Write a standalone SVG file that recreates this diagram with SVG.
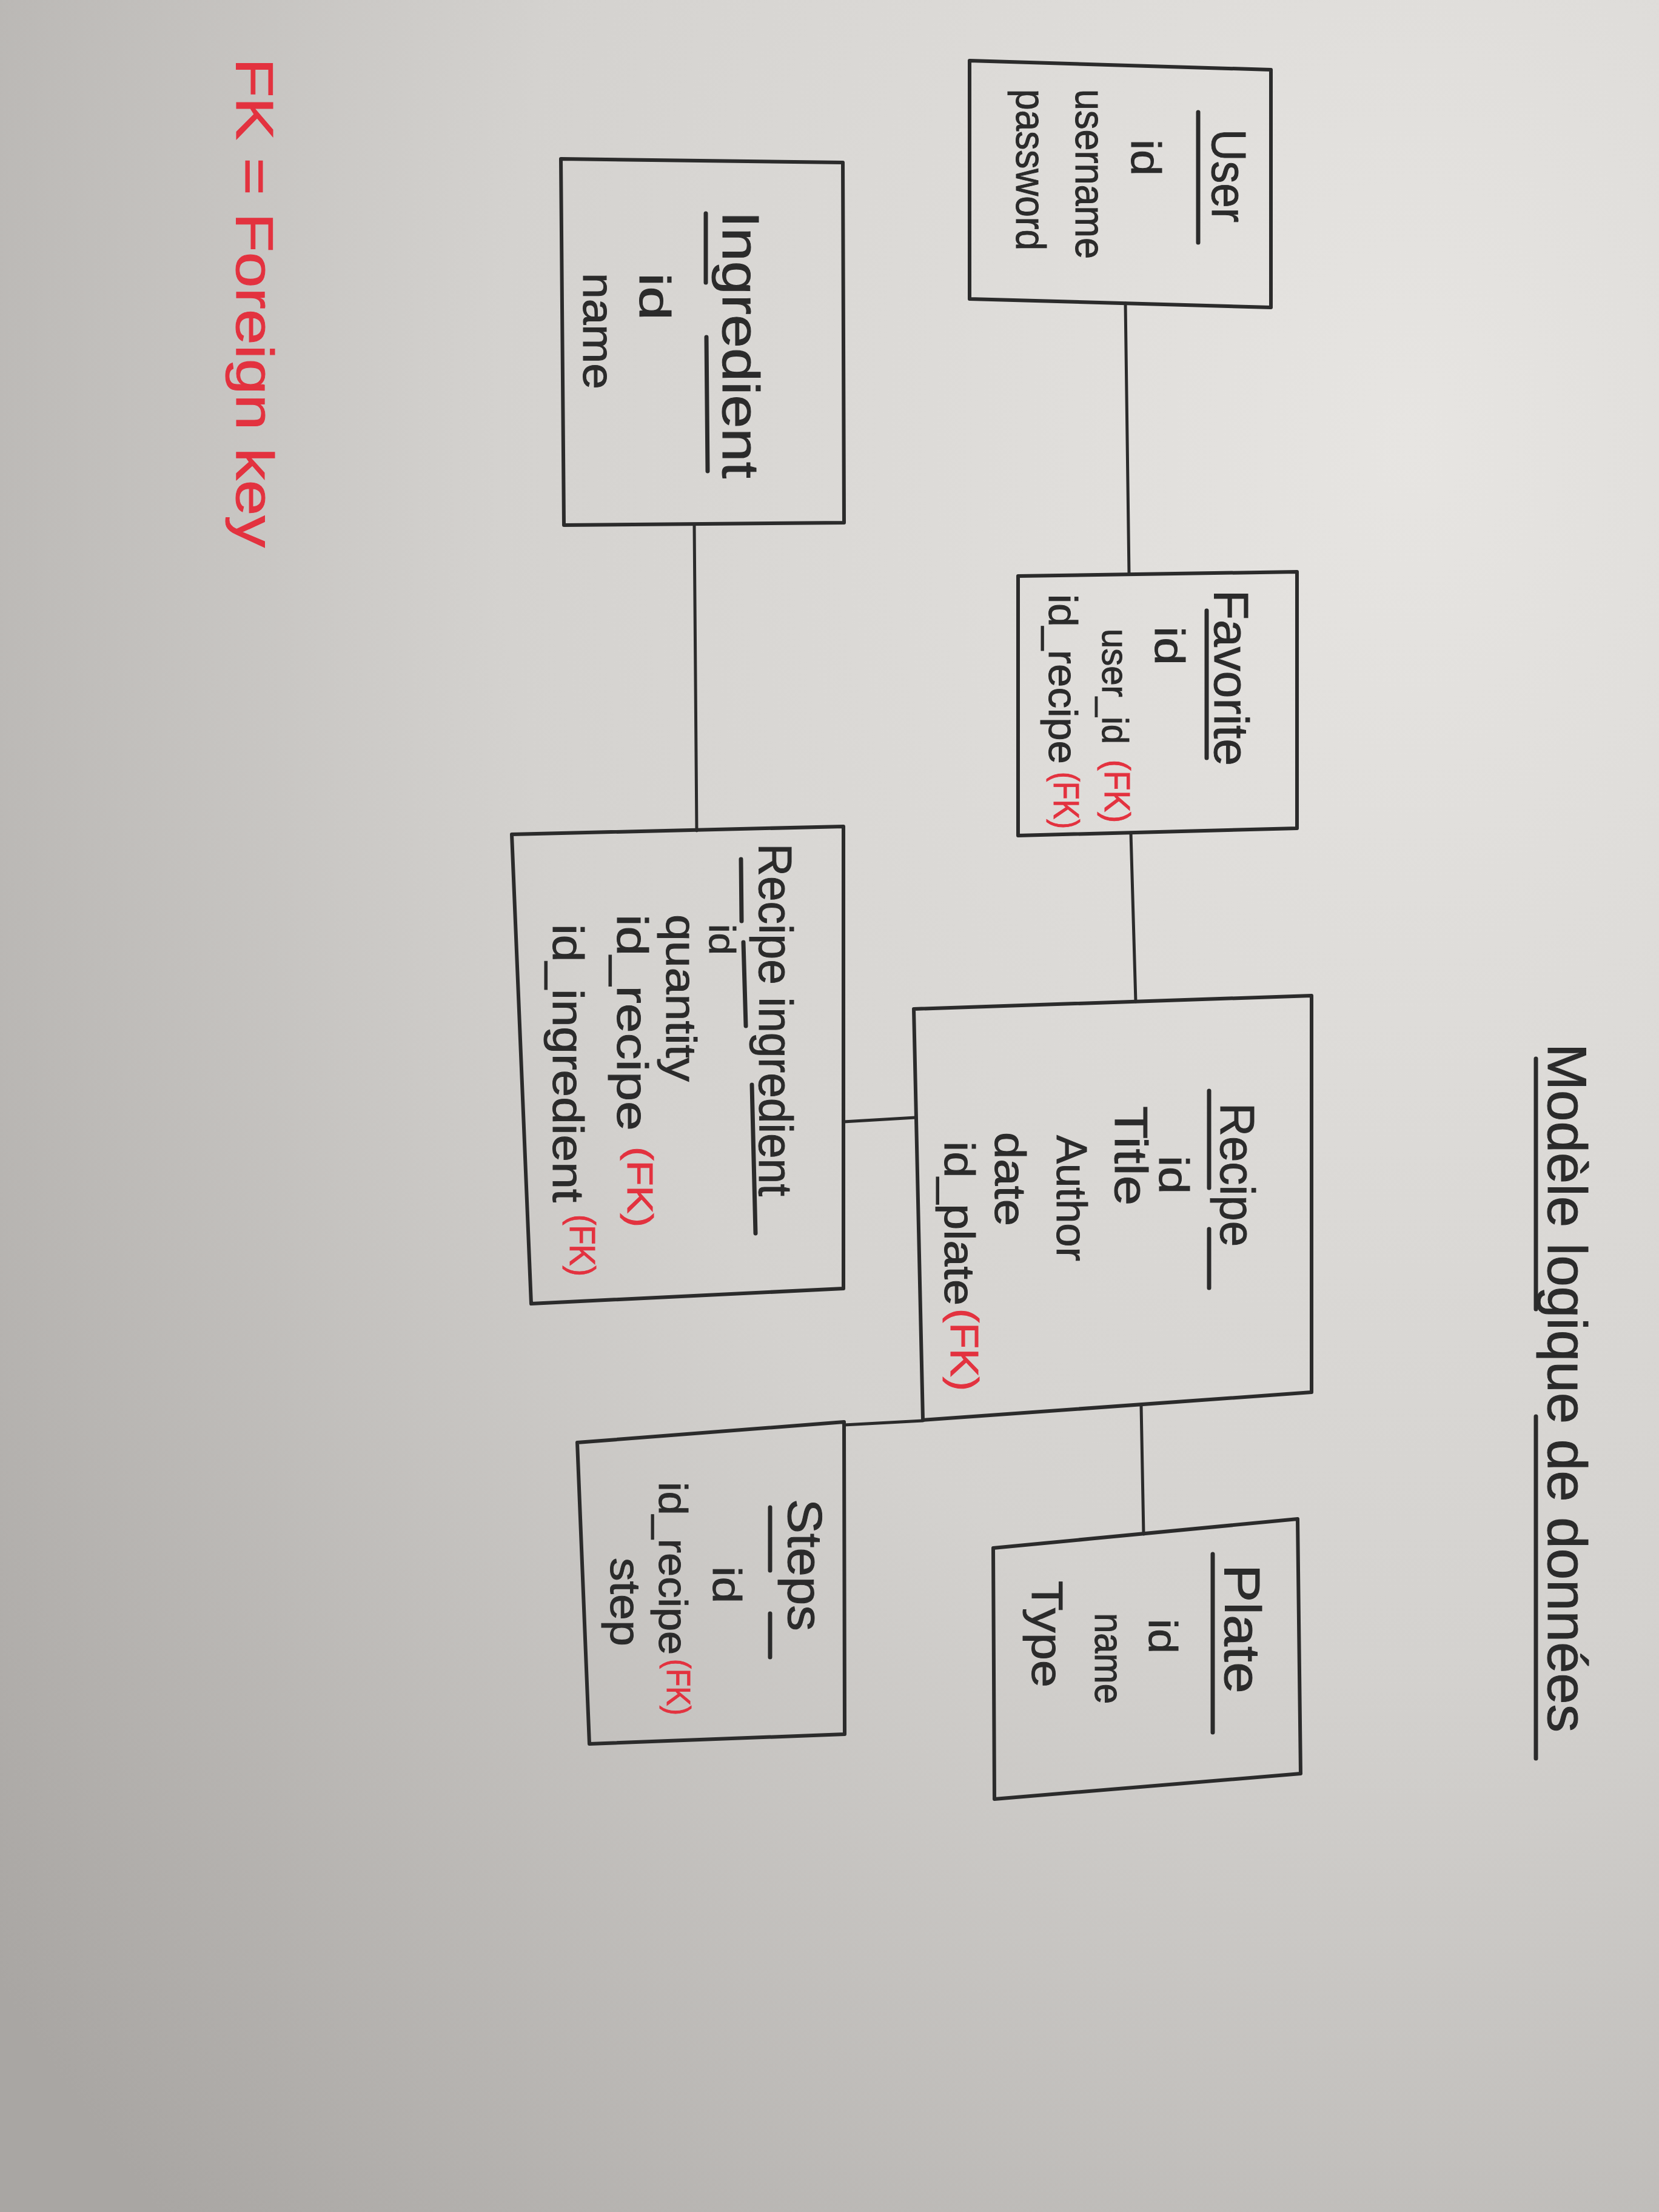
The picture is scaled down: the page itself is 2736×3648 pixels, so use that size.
<svg xmlns="http://www.w3.org/2000/svg" width="2736" height="3648" viewBox="0 0 2736 3648">
<defs>
<radialGradient id="paper" cx="0.85" cy="0.2" r="1.1">
<stop offset="0" stop-color="#e7e5e2"/>
<stop offset="0.5" stop-color="#d4d2cf"/>
<stop offset="1" stop-color="#a9a6a3"/>
</radialGradient>
<style>
.box{fill:none;stroke:#2b2b2b;stroke-width:6;stroke-linejoin:round;stroke-linecap:round}
.ln{fill:none;stroke:#2b2b2b;stroke-width:5;stroke-linecap:round}
.ul{fill:none;stroke:#2b2b2b;stroke-width:7;stroke-linecap:round}
text{font-family:"Liberation Sans","DejaVu Sans",sans-serif;fill:#2b2b2b;stroke:#2b2b2b;stroke-width:1}
.h{font-size:80px}
.a{font-size:68px}
.fk{font-size:60px;fill:#e3323f;stroke:#e3323f}
.leg{font-size:88px;fill:#e3323f;stroke:#e3323f}
</style>
</defs>
<rect x="0" y="0" width="2736" height="3648" fill="url(#paper)"/>

<g id="title">
<text class="h" style="font-size:90px" transform="translate(2553,1721) rotate(90)" textLength="1136" lengthAdjust="spacingAndGlyphs">Modèle logique de données</text>
<line class="ul" x1="2533" y1="1746" x2="2533" y2="2159"/>
<line class="ul" x1="2533" y1="2336" x2="2533" y2="2900"/>
</g>

<g id="legend">
<text class="leg" transform="translate(390,96) rotate(90)" textLength="807" lengthAdjust="spacingAndGlyphs">FK = Foreign key</text>
</g>

<g id="connectors">
<line class="ln" x1="1856" y1="500" x2="1862" y2="947"/>
<line class="ln" x1="1145" y1="866" x2="1149" y2="1370"/>
<line class="ln" x1="1865" y1="1374" x2="1873" y2="1652"/>
<line class="ln" x1="1391" y1="1850" x2="1510" y2="1843"/>
<line class="ln" x1="1882" y1="2318" x2="1886" y2="2530"/>
<line class="ln" x1="1392" y1="2350" x2="1522" y2="2343"/>
</g>

<g id="user">
<polygon class="box" points="1599,100 2096,115 2096,507 1599,493"/>
<text class="h" transform="translate(1999,213) rotate(90)" textLength="154" lengthAdjust="spacingAndGlyphs">User</text>
<line class="ul" x1="1976" y1="185" x2="1976" y2="400"/>
<text class="a" transform="translate(1866,230) rotate(90)" textLength="60" lengthAdjust="spacingAndGlyphs">id</text>
<text class="a" transform="translate(1774,147) rotate(90)" textLength="280" lengthAdjust="spacingAndGlyphs">username</text>
<text class="a" transform="translate(1676,147) rotate(90)" textLength="266" lengthAdjust="spacingAndGlyphs">password</text>
</g>

<g id="ingredient">
<polygon class="box" points="925,262 1390,268 1392,862 930,866"/>
<text class="h" style="font-size:86px" transform="translate(1192,348) rotate(90)" textLength="441" lengthAdjust="spacingAndGlyphs">Ingredient</text>
<line class="ul" x1="1164" y1="352" x2="1164" y2="466"/>
<line class="ul" x1="1165" y1="556" x2="1167" y2="777"/>
<text class="a" style="font-size:72px" transform="translate(1055,450) rotate(90)" textLength="78" lengthAdjust="spacingAndGlyphs">id</text>
<text class="a" style="font-size:72px" transform="translate(962,450) rotate(90)" textLength="192" lengthAdjust="spacingAndGlyphs">name</text>
</g>

<g id="favorite">
<polygon class="box" points="1679,950 2139,943 2139,1366 1679,1378"/>
<text class="h" transform="translate(2003,973) rotate(90)" textLength="290" lengthAdjust="spacingAndGlyphs">Favorite</text>
<line class="ul" x1="1990" y1="1007" x2="1990" y2="1250"/>
<text class="a" transform="translate(1905,1033) rotate(90)" textLength="64" lengthAdjust="spacingAndGlyphs">id</text>
<text class="a" style="font-size:62px" transform="translate(1818,1037) rotate(90)" textLength="190" lengthAdjust="spacingAndGlyphs">user_id</text>
<text class="fk" transform="translate(1822,1253) rotate(90)" textLength="104" lengthAdjust="spacingAndGlyphs">(FK)</text>
<text class="a" style="font-size:66px" transform="translate(1730,980) rotate(90)" textLength="280" lengthAdjust="spacingAndGlyphs">id_recipe</text>
<text class="fk" transform="translate(1738,1273) rotate(90)" textLength="94" lengthAdjust="spacingAndGlyphs">(FK)</text>
</g>

<g id="recipe_ingredient">
<polygon class="box" points="844,1376 1391,1363 1391,2125 876,2150"/>
<text class="h" style="font-size:78px" transform="translate(1252,1391) rotate(90)" textLength="582" lengthAdjust="spacingAndGlyphs">Recipe ingredient</text>
<line class="ul" x1="1222" y1="1417" x2="1223" y2="1519"/>
<line class="ul" x1="1226" y1="1554" x2="1230" y2="1692"/>
<line class="ul" x1="1240" y1="1789" x2="1246" y2="2034"/>
<text class="a" style="font-size:62px" transform="translate(1170,1524) rotate(90)" textLength="51" lengthAdjust="spacingAndGlyphs">id</text>
<text class="a" style="font-size:70px" transform="translate(1099,1508) rotate(90)" textLength="276" lengthAdjust="spacingAndGlyphs">quantity</text>
<text class="a" style="font-size:72px" transform="translate(1018,1508) rotate(90)" textLength="357" lengthAdjust="spacingAndGlyphs">id_recipe</text>
<text class="fk" transform="translate(1035,1891) rotate(90)" textLength="133" lengthAdjust="spacingAndGlyphs">(FK)</text>
<text class="a" style="font-size:72px" transform="translate(912,1524) rotate(90)" textLength="459" lengthAdjust="spacingAndGlyphs">id_ingredient</text>
<text class="fk" transform="translate(940,2003) rotate(90)" textLength="102" lengthAdjust="spacingAndGlyphs">(FK)</text>
</g>

<g id="recipe">
<polygon class="box" points="1507,1664 2163,1642 2163,2296 1522,2342"/>
<text class="h" transform="translate(2013,1819) rotate(90)" textLength="237" lengthAdjust="spacingAndGlyphs">Recipe</text>
<line class="ul" x1="1994" y1="1799" x2="1994" y2="1959"/>
<line class="ul" x1="1994" y1="2027" x2="1994" y2="2124"/>
<text class="a" transform="translate(1912,1906) rotate(90)" textLength="63" lengthAdjust="spacingAndGlyphs">id</text>
<text class="a" style="font-size:76px" transform="translate(1839,1824) rotate(90)" textLength="164" lengthAdjust="spacingAndGlyphs">Title</text>
<text class="a" style="font-size:70px" transform="translate(1743,1872) rotate(90)" textLength="208" lengthAdjust="spacingAndGlyphs">Author</text>
<text class="a" style="font-size:72px" transform="translate(1641,1867) rotate(90)" textLength="155" lengthAdjust="spacingAndGlyphs">date</text>
<text class="a" style="font-size:70px" transform="translate(1558,1882) rotate(90)" textLength="271" lengthAdjust="spacingAndGlyphs">id_plate</text>
<text class="fk" style="font-size:64px" transform="translate(1568,2158) rotate(90)" textLength="136" lengthAdjust="spacingAndGlyphs">(FK)</text>
</g>

<g id="steps">
<polygon class="box" points="952,2379 1392,2345 1393,2860 972,2876"/>
<text class="h" transform="translate(1300,2472) rotate(90)" textLength="218" lengthAdjust="spacingAndGlyphs">Steps</text>
<line class="ul" x1="1270" y1="2486" x2="1270" y2="2590"/>
<line class="ul" x1="1270" y1="2661" x2="1270" y2="2733"/>
<text class="a" style="font-size:66px" transform="translate(1176,2583) rotate(90)" textLength="61" lengthAdjust="spacingAndGlyphs">id</text>
<text class="a" style="font-size:66px" transform="translate(1087,2444) rotate(90)" textLength="285" lengthAdjust="spacingAndGlyphs">id_recipe</text>
<text class="fk" style="font-size:56px" transform="translate(1100,2736) rotate(90)" textLength="93" lengthAdjust="spacingAndGlyphs">(FK)</text>
<text class="a" style="font-size:70px" transform="translate(1007,2569) rotate(90)" textLength="146" lengthAdjust="spacingAndGlyphs">step</text>
</g>

<g id="plate">
<polygon class="box" points="1638,2553 2140,2505 2145,2925 1640,2967"/>
<text class="h" style="font-size:84px" transform="translate(2020,2580) rotate(90)" textLength="213" lengthAdjust="spacingAndGlyphs">Plate</text>
<line class="ul" x1="2000" y1="2563" x2="2000" y2="2857"/>
<text class="a" style="font-size:66px" transform="translate(1895,2670) rotate(90)" textLength="57" lengthAdjust="spacingAndGlyphs">id</text>
<text class="a" style="font-size:66px" transform="translate(1806,2660) rotate(90)" textLength="150" lengthAdjust="spacingAndGlyphs">name</text>
<text class="a" style="font-size:72px" transform="translate(1702,2607) rotate(90)" textLength="176" lengthAdjust="spacingAndGlyphs">Type</text>
</g>
</svg>
